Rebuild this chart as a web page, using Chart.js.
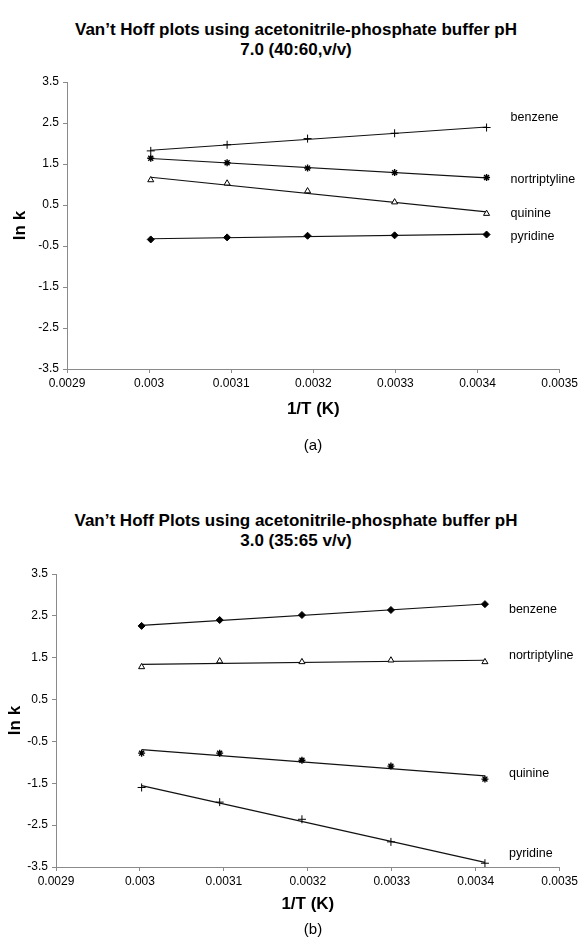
<!DOCTYPE html>
<html>
<head>
<meta charset="utf-8">
<script src="https://cdn.jsdelivr.net/npm/chart.js@4"></script>
<style>
    body { margin: 0; background: #fff; font-family: "Liberation Sans", Arial, sans-serif; color: #000; }
    #pagina { position: relative; width: 581px; height: 943px; overflow: hidden; }
    .titulo { position: absolute; left: 0; width: 592px; text-align: center; font-weight: bold; font-size: 17px; line-height: 20px; }
    .letra { position: absolute; left: 0; width: 626px; text-align: center; font-size: 15px; }
    .caixa { position: absolute; left: 0; width: 581px; }
</style>
</head>
<body>
<div id="pagina">
    <div class="titulo" style="top:20px">Van’t Hoff plots using acetonitrile-phosphate buffer pH<br>7.0 (40:60,v/v)</div>
    <div class="caixa" style="top:0; height:460px"><canvas id="graficoA"></canvas></div>
    <div class="letra" style="top:436px">(a)</div>

    <div class="titulo" style="top:511px">Van’t Hoff Plots using acetonitrile-phosphate buffer pH<br>3.0 (35:65 v/v)</div>
    <div class="caixa" style="top:460px; height:483px"><canvas id="graficoB"></canvas></div>
    <div class="letra" style="top:920px">(b)</div>
</div>
<script>
// 1/T (K) das cinco temperaturas
const inversoT = [0.003002, 0.003095, 0.003193, 0.003299, 0.003411];

// (a) pH 7.0
const benzenoA = [1.82, 1.97, 2.12, 2.25, 2.39];
const nortriptilinaA = [1.64, 1.53, 1.40, 1.29, 1.17];
const quininaA = [1.11, 1.03, 0.84, 0.57, 0.29];
const piridinaA = [-0.34, -0.29, -0.25, -0.24, -0.22];

// (b) pH 3.0
const benzenoB = [2.26, 2.40, 2.52, 2.64, 2.78];
const nortriptilinaB = [1.28, 1.42, 1.40, 1.44, 1.40];
const quininaB = [-0.78, -0.78, -0.95, -1.09, -1.40];
const piridinaB = [-1.60, -1.95, -2.36, -2.90, -3.41];

const ticksX = [0.0029, 0.003, 0.0031, 0.0032, 0.0033, 0.0034, 0.0035];
const rotulosTicksX = ['0.0029', '0.003', '0.0031', '0.0032', '0.0033', '0.0034', '0.0035'];
const ticksY = [-3.5, -2.5, -1.5, -0.5, 0.5, 1.5, 2.5, 3.5];
const rotulosTicksY = ['-3.5', '-2.5', '-1.5', '-0.5', '0.5', '1.5', '2.5', '3.5'];

Chart.defaults.font.family = '"Liberation Sans", Arial, sans-serif';
Chart.defaults.color = '#000';

// reta de tendência (mínimos quadrados), como no Excel
function retaAjustada(xs, ys) {
    const n = xs.length;
    const mx = xs.reduce((a, b) => a + b) / n;
    const my = ys.reduce((a, b) => a + b) / n;
    let sxy = 0, sxx = 0;
    for (let i = 0; i < n; i++) {
        sxy += (xs[i] - mx) * (ys[i] - my);
        sxx += (xs[i] - mx) * (xs[i] - mx);
    }
    const b = sxy / sxx;
    const a = my - b * mx;
    return [{x: xs[0], y: a + b * xs[0]}, {x: xs[n - 1], y: a + b * xs[n - 1]}];
}

// nomes dos compostos à direita das retas
const nomesSeries = {
    id: 'nomesSeries',
    afterDatasetsDraw(chart, args, opts) {
        const ctx = chart.ctx;
        const sx = chart.scales.x, sy = chart.scales.y;
        ctx.save();
        ctx.font = '12.5px "Liberation Sans", Arial, sans-serif';
        ctx.fillStyle = '#000';
        ctx.textAlign = 'left';
        ctx.textBaseline = 'middle';
        opts.nomes.forEach(r => {
            ctx.fillText(r.texto, sx.getPixelForValue(inversoT[inversoT.length - 1]) + 24, sy.getPixelForValue(r.y));
        });
        ctx.restore();
    }
};

function criarGrafico(id, series, nomes, cfg) {
    const datasets = [];
    series.forEach(s => {
        datasets.push({
            data: retaAjustada(inversoT, s.valores),
            showLine: true,
            borderColor: '#111',
            borderWidth: 1.2,
            pointRadius: 0,
            order: 2
        });
    });
    series.forEach(s => {
        datasets.push({
            label: s.nome,
            data: inversoT.map((x, i) => ({x: x, y: s.valores[i]})),
            pointStyle: s.marcador,
            pointRadius: s.raio,
            borderColor: '#000',
            borderWidth: s.marcador === 'star' ? 1.4 : 1,
            backgroundColor: s.cheio ? '#000' : '#fff',
            order: 1
        });
    });

    return new Chart(document.getElementById(id), {
        type: 'scatter',
        data: { datasets: datasets },
        options: {
            responsive: true,
            maintainAspectRatio: false,
            animation: false,
            layout: { padding: { top: cfg.topo, right: cfg.direita, bottom: 0, left: 0 } },
            plugins: {
                legend: { display: false },
                tooltip: { enabled: false },
                nomesSeries: { nomes: nomes }
            },
            scales: {
                x: {
                    type: 'linear',
                    min: 0.0029,
                    max: 0.0035,
                    afterBuildTicks: s => { s.ticks = ticksX.map(v => ({value: v})); },
                    afterFit: s => { s.height = cfg.alturaX; },
                    ticks: { callback: (v, i) => rotulosTicksX[i], font: { size: 12 }, padding: 3, maxRotation: 0 },
                    grid: { drawOnChartArea: false, drawTicks: true, tickLength: 4, color: '#8a8a8a' },
                    border: { color: '#8a8a8a', width: 1 },
                    title: { display: true, text: '1/T (K)', font: { size: 17, weight: 'bold' }, padding: { top: 0, bottom: cfg.folgaTituloX } }
                },
                y: {
                    type: 'linear',
                    min: -3.5,
                    max: 3.5,
                    afterBuildTicks: s => { s.ticks = ticksY.map(v => ({value: v})); },
                    afterFit: s => { s.width = cfg.larguraY; },
                    ticks: { callback: (v, i) => rotulosTicksY[i], font: { size: 12 }, padding: 4 },
                    grid: { drawOnChartArea: false, drawTicks: true, tickLength: 4, color: '#8a8a8a' },
                    border: { color: '#8a8a8a', width: 1 },
                    title: { display: true, text: 'ln k', font: { size: 17, weight: 'bold' }, padding: { top: cfg.folgaTituloY, bottom: 0 } }
                }
            }
        },
        plugins: [nomesSeries]
    });
}

criarGrafico('graficoA', [
    { nome: 'benzene', valores: benzenoA, marcador: 'cross', raio: 4, cheio: false },
    { nome: 'nortriptyline', valores: nortriptilinaA, marcador: 'star', raio: 3.5, cheio: false },
    { nome: 'quinine', valores: quininaA, marcador: 'triangle', raio: 3.5, cheio: false },
    { nome: 'pyridine', valores: piridinaA, marcador: 'rectRot', raio: 3.5, cheio: true }
], [
    { texto: 'benzene', y: 2.63 },
    { texto: 'nortriptyline', y: 1.13 },
    { texto: 'quinine', y: 0.30 },
    { texto: 'pyridine', y: -0.26 }
], { topo: 82, direita: 21, alturaX: 91, larguraY: 67, folgaTituloX: 40, folgaTituloY: 10 });

criarGrafico('graficoB', [
    { nome: 'benzene', valores: benzenoB, marcador: 'rectRot', raio: 3.5, cheio: true },
    { nome: 'nortriptyline', valores: nortriptilinaB, marcador: 'triangle', raio: 3.5, cheio: false },
    { nome: 'quinine', valores: quininaB, marcador: 'star', raio: 3.5, cheio: false },
    { nome: 'pyridine', valores: piridinaB, marcador: 'cross', raio: 4, cheio: false }
], [
    { texto: 'benzene', y: 2.66 },
    { texto: 'nortriptyline', y: 1.54 },
    { texto: 'quinine', y: -1.26 },
    { texto: 'pyridine', y: -3.18 }
], { topo: 114, direita: 20, alturaX: 76, larguraY: 56, folgaTituloX: 28, folgaTituloY: 5 });
</script>
</body>
</html>
